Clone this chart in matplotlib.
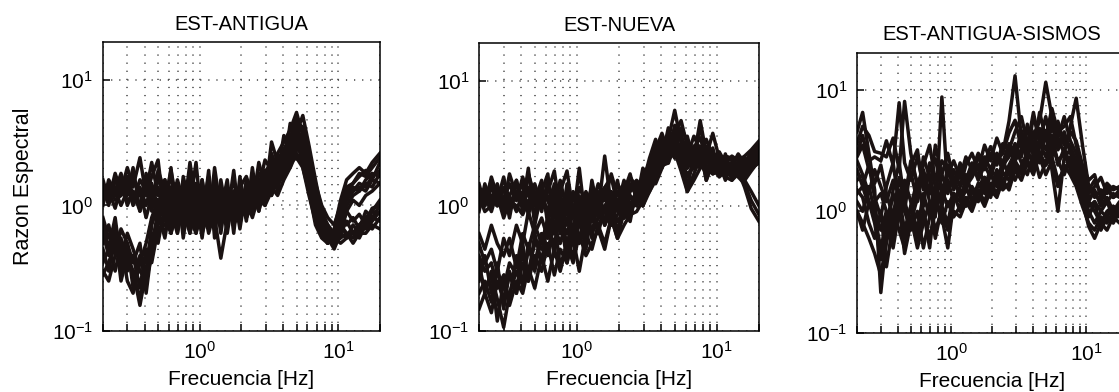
import matplotlib
matplotlib.use('Agg')
import matplotlib.pyplot as plt
from matplotlib.ticker import LogLocator, NullLocator, NullFormatter

plt.rcParams['font.family'] = ['Liberation Sans', 'DejaVu Sans']

# frecuencias comunes (Hz)
freq = [0.20, 0.22, 0.245, 0.27, 0.30, 0.33, 0.37, 0.41, 0.45, 0.50,
        0.56, 0.62, 0.69, 0.76, 0.85, 0.94, 1.04, 1.16, 1.28, 1.42,
        1.58, 1.76, 1.95, 2.17, 2.4, 2.67, 2.96, 3.3, 3.65, 4.05,
        4.5, 5.0, 5.55, 6.15, 6.85, 7.6, 8.4, 9.35, 10.4, 11.5,
        12.8, 14.2, 15.8, 17.6, 20]

# EST-ANTIGUA
antigua = [
    [1.3, 1.15, 1.4, 1.2, 1.5, 1.1, 1.6, 1.3, 2.2, 1.2,
     1.5, 0.9, 1.6, 1.1, 1.8, 0.9, 1.3, 1.0, 1.4, 0.8,
     1.2, 1.5, 1.0, 1.3, 1.6, 1.4, 2.3, 1.9, 2.6, 3.2,
     4.0, 5.5, 3.6, 1.8, 0.9, 0.65, 0.55, 0.6, 0.9, 1.3,
     1.5, 1.7, 1.9, 1.6, 2.2],
    [1.1, 1.4, 1.2, 1.6, 1.0, 1.3, 0.9, 1.8, 1.0, 1.4,
     0.8, 1.2, 0.7, 1.3, 1.0, 1.5, 0.8, 1.2, 0.9, 1.1,
     1.4, 0.8, 1.2, 1.0, 1.5, 1.3, 1.8, 2.2, 2.0, 2.8,
     3.5, 4.6, 4.2, 2.2, 1.1, 0.7, 0.6, 0.5, 0.6, 0.75,
     0.6, 0.7, 0.8, 0.9, 0.85],
    [1.5, 1.2, 1.3, 1.0, 1.3, 1.7, 1.2, 1.4, 0.9, 1.7,
     1.1, 1.9, 1.0, 0.8, 2.2, 1.0, 1.6, 0.8, 1.1, 1.3,
     0.9, 1.1, 1.4, 1.7, 1.2, 1.8, 1.5, 2.0, 2.5, 2.2,
     3.0, 4.0, 2.8, 1.6, 1.0, 0.8, 0.7, 0.6, 0.85, 1.2,
     1.4, 1.3, 1.6, 1.8, 1.7],
    [1.2, 1.3, 0.95, 1.4, 1.1, 1.2, 1.4, 1.0, 1.5, 0.9,
     1.3, 0.75, 1.1, 1.4, 0.8, 1.2, 0.9, 1.7, 0.7, 1.0,
     1.2, 0.8, 1.0, 0.9, 1.2, 1.0, 1.3, 1.6, 1.5, 2.0,
     2.4, 3.2, 3.0, 2.0, 1.3, 0.9, 0.6, 0.55, 0.5, 0.55,
     0.7, 0.6, 0.75, 0.95, 1.0],
    [1.4, 1.0, 1.6, 1.3, 1.5, 1.0, 1.3, 0.8, 1.2, 1.1,
     0.9, 1.4, 1.5, 0.9, 1.4, 0.8, 1.1, 1.3, 1.0, 0.75,
     1.0, 1.3, 1.1, 1.4, 1.0, 1.6, 1.2, 3.2, 2.2, 2.6,
     2.8, 3.6, 3.3, 2.5, 1.5, 1.0, 0.8, 0.7, 1.0, 1.4,
     1.5, 1.8, 1.7, 2.0, 2.4],
    [1.2, 1.5, 1.1, 1.2, 1.7, 1.2, 1.0, 1.5, 1.3, 0.8,
     1.6, 1.0, 0.9, 1.2, 0.7, 1.1, 1.2, 0.9, 1.5, 1.0,
     0.85, 1.0, 1.2, 1.1, 1.4, 1.1, 1.6, 1.4, 1.9, 2.4,
     3.4, 5.0, 3.9, 2.4, 1.2, 0.75, 0.6, 0.55, 0.65, 0.6,
     0.55, 0.65, 0.7, 0.8, 0.75],
    [1.6, 1.1, 1.8, 1.3, 2.0, 1.4, 2.4, 1.2, 1.7, 2.3,
     0.8, 2.0, 0.6, 1.7, 1.0, 2.2, 0.7, 1.9, 0.55, 1.6,
     0.8, 1.9, 0.7, 1.6, 1.0, 2.2, 1.4, 2.6, 1.8, 3.6,
     2.6, 4.8, 2.5, 1.3, 0.7, 0.55, 0.5, 0.65, 1.1, 1.6,
     1.8, 2.0, 1.8, 2.2, 2.6],
    [1.0, 1.6, 1.3, 1.8, 1.2, 2.0, 0.9, 1.4, 1.0, 1.9,
     1.3, 0.6, 1.4, 0.7, 1.6, 0.65, 1.5, 0.7, 2.0, 0.9,
     1.6, 0.6, 1.7, 0.8, 2.0, 0.9, 1.7, 2.4, 1.6, 2.0,
     4.5, 3.8, 5.2, 3.0, 1.6, 0.9, 0.55, 0.45, 0.6, 0.9,
     1.1, 1.0, 1.2, 1.3, 1.5],
    [0.35, 0.45, 0.3, 0.5, 0.25, 0.2, 0.35, 0.5, 0.8, 1.1,
     0.9, 1.3, 0.8, 1.0, 1.2, 0.7, 1.0, 0.8, 1.1, 0.9,
     1.3, 0.95, 1.1, 0.8, 1.0, 1.2, 1.5, 1.3, 1.7, 2.1,
     2.6, 3.0, 2.4, 1.4, 0.8, 0.6, 0.5, 0.55, 0.7, 0.6,
     0.6, 0.55, 0.7, 0.65, 0.8],
    [0.6, 0.4, 0.7, 0.45, 0.35, 0.3, 0.16, 0.3, 0.55, 0.7,
     1.2, 0.8, 1.1, 0.7, 0.9, 1.3, 0.75, 1.0, 0.65, 1.1,
     0.9, 1.2, 0.8, 1.0, 1.3, 0.9, 1.4, 1.7, 1.4, 1.9,
     2.2, 2.8, 2.6, 1.7, 1.0, 0.7, 0.55, 0.6, 0.8, 1.2,
     1.3, 1.5, 1.4, 1.7, 1.9],
    [0.8, 0.55, 0.7, 0.4, 0.6, 0.45, 0.3, 0.25, 0.4, 0.8,
     0.6, 1.0, 1.4, 0.8, 1.0, 0.9, 1.1, 0.6, 0.9, 1.2,
     0.7, 1.1, 0.9, 1.2, 0.9, 1.3, 1.1, 1.5, 1.8, 2.4,
     2.9, 4.2, 3.2, 1.9, 1.1, 0.8, 0.65, 0.5, 0.55, 0.6,
     0.5, 0.6, 0.6, 0.7, 0.65],
    [0.28, 0.35, 0.5, 0.3, 0.45, 0.25, 0.4, 0.35, 0.6, 0.5,
     1.0, 0.7, 1.2, 0.9, 0.6, 1.0, 0.8, 1.2, 0.9, 0.7,
     1.1, 0.9, 1.2, 1.1, 0.8, 1.2, 1.3, 1.2, 1.6, 1.9,
     2.4, 3.3, 3.6, 2.2, 1.3, 0.9, 0.7, 0.55, 0.8, 1.1,
     1.3, 1.4, 1.3, 1.6, 1.5],
    [0.5, 0.7, 0.4, 0.65, 0.5, 0.35, 0.5, 0.2, 0.45, 0.6,
     0.8, 0.6, 0.9, 1.1, 0.8, 0.6, 0.9, 1.0, 0.8, 0.38,
     0.75, 0.9, 1.0, 0.8, 1.1, 1.0, 1.2, 1.4, 1.2, 1.6,
     2.0, 2.6, 2.2, 1.5, 0.9, 0.7, 0.6, 0.5, 0.6, 0.55,
     0.6, 0.7, 0.65, 0.75, 0.9],
    [0.3, 0.25, 0.4, 0.55, 0.3, 0.4, 0.22, 0.45, 0.35, 0.65,
     0.7, 0.9, 0.6, 1.0, 0.7, 1.1, 0.6, 0.9, 1.0, 0.8,
     1.0, 0.7, 0.9, 1.1, 0.9, 1.1, 1.0, 1.3, 1.5, 1.7,
     2.2, 2.4, 2.0, 1.3, 0.85, 0.6, 0.5, 0.6, 0.75, 1.0,
     1.2, 1.3, 1.5, 1.4, 1.8],
    [0.7, 0.45, 0.8, 0.35, 0.5, 0.22, 0.38, 0.26, 0.7, 1.0,
     1.6, 0.6, 1.5, 0.55, 1.3, 0.6, 1.6, 0.65, 1.3, 0.6,
     1.4, 0.7, 1.5, 0.75, 1.6, 1.0, 1.9, 1.2, 2.4, 1.7,
     3.2, 3.8, 2.0, 1.2, 0.75, 0.6, 0.5, 0.6, 0.65, 0.9,
     0.75, 0.85, 0.7, 0.9, 1.1],
    [0.45, 0.3, 0.6, 0.25, 0.4, 0.3, 0.18, 0.32, 0.48, 0.9,
     0.55, 1.1, 0.7, 1.5, 0.6, 1.2, 0.55, 1.4, 0.8, 1.2,
     0.6, 1.3, 0.65, 1.4, 0.9, 1.5, 1.0, 2.0, 1.3, 2.6,
     2.0, 3.4, 2.7, 1.6, 0.95, 0.65, 0.6, 0.5, 0.8, 0.7,
     0.8, 0.65, 0.9, 0.8, 1.0],
]

# EST-NUEVA
nueva = [
    [1.0, 1.3, 1.1, 1.5, 0.9, 1.2, 1.6, 1.0, 1.4, 0.8,
     1.2, 0.9, 1.5, 1.1, 0.7, 1.2, 0.9, 1.3, 1.0, 1.5,
     1.1, 1.8, 1.2, 1.4, 1.0, 1.3, 1.7, 2.2, 3.0, 2.6,
     3.4, 5.8, 3.2, 2.5, 3.6, 2.8, 2.2, 2.6, 2.0, 2.3,
     2.1, 1.9, 2.2, 2.5, 2.9],
    [1.3, 1.0, 1.4, 1.1, 1.7, 1.0, 1.2, 1.5, 0.85, 1.3,
     0.9, 1.6, 1.0, 1.3, 1.1, 0.8, 1.4, 1.1, 0.9, 1.2,
     1.4, 1.0, 1.5, 1.2, 1.4, 1.6, 1.4, 1.9, 2.5, 3.2,
     2.9, 3.6, 2.4, 1.3, 1.8, 2.4, 3.0, 2.3, 2.6, 2.0,
     1.8, 2.1, 1.9, 2.2, 2.6],
    [0.95, 1.2, 0.9, 1.3, 1.1, 1.5, 1.1, 1.7, 1.2, 1.0,
     1.4, 1.1, 0.8, 1.2, 0.9, 1.3, 1.0, 1.2, 0.75, 1.0,
     0.9, 1.3, 1.0, 1.6, 1.2, 1.1, 1.5, 1.8, 2.2, 2.8,
     3.8, 3.0, 4.2, 3.3, 2.6, 2.2, 1.9, 2.4, 2.7, 2.2,
     2.0, 1.7, 1.5, 1.1, 0.85],
    [1.4, 1.1, 1.6, 1.0, 1.2, 0.9, 1.3, 1.1, 1.8, 1.2,
     1.0, 1.3, 1.9, 0.9, 1.2, 1.0, 0.8, 1.0, 1.4, 1.1,
     1.2, 0.85, 1.1, 1.3, 1.5, 1.2, 1.6, 2.0, 2.8, 3.4,
     3.0, 4.0, 3.5, 2.8, 2.4, 4.8, 2.6, 2.1, 2.5, 2.4,
     2.3, 2.0, 2.4, 2.1, 2.7],
    [1.1, 1.4, 1.2, 1.0, 1.4, 1.2, 0.9, 1.3, 1.0, 1.5,
     1.0, 1.2, 1.0, 1.6, 0.9, 1.2, 1.1, 0.7, 1.1, 0.9,
     1.0, 1.2, 0.9, 1.1, 1.7, 1.4, 1.3, 1.7, 2.1, 2.4,
     2.6, 3.2, 2.8, 2.2, 3.0, 2.5, 2.0, 1.8, 1.9, 1.7,
     1.6, 1.8, 1.6, 1.9, 2.3],
    [1.2, 0.9, 1.0, 1.2, 0.8, 1.1, 1.0, 0.85, 1.1, 0.9,
     1.3, 0.8, 1.2, 0.75, 1.1, 0.9, 1.2, 0.9, 1.2, 0.8,
     1.3, 1.1, 1.3, 0.95, 1.3, 1.5, 1.2, 1.5, 1.9, 2.2,
     2.4, 2.7, 1.9, 1.3, 1.6, 2.0, 2.3, 2.0, 2.2, 1.9,
     1.7, 1.9, 1.4, 0.95, 0.75],
    [1.5, 1.0, 1.7, 1.2, 1.4, 0.8, 1.6, 0.9, 1.8, 1.1,
     1.6, 0.7, 1.4, 0.6, 1.5, 0.8, 2.0, 0.7, 1.6, 0.9,
     2.5, 1.0, 1.6, 0.8, 1.2, 1.0, 1.5, 2.4, 3.4, 2.4,
     4.2, 3.0, 2.0, 3.6, 2.2, 4.5, 2.2, 2.9, 1.8, 2.6,
     1.6, 2.3, 2.0, 2.5, 3.0],
    [0.9, 1.5, 1.0, 1.3, 1.0, 1.8, 1.2, 1.0, 2.0, 0.7,
     1.3, 1.8, 0.6, 1.3, 1.9, 0.9, 1.1, 0.55, 1.3, 1.0,
     1.4, 1.7, 1.0, 1.3, 1.8, 1.1, 2.0, 1.6, 2.8, 3.8,
     2.7, 3.4, 2.6, 1.4, 2.5, 2.8, 1.6, 2.4, 2.2, 1.6,
     2.2, 1.8, 1.6, 1.3, 1.0],
    [0.5, 0.35, 0.45, 0.3, 0.55, 0.4, 0.7, 0.5, 0.9, 0.6,
     0.8, 0.55, 1.0, 0.7, 0.9, 0.6, 0.9, 1.1, 0.8, 1.0,
     0.7, 0.9, 1.1, 0.8, 1.0, 1.3, 1.1, 1.4, 1.8, 2.3,
     2.8, 3.3, 2.7, 2.0, 2.4, 2.9, 2.1, 1.9, 2.3, 1.8,
     1.9, 2.2, 2.0, 2.4, 2.6],
    [0.3, 0.22, 0.28, 0.18, 0.107, 0.2, 0.3, 0.25, 0.45, 0.35,
     0.6, 0.45, 0.7, 0.5, 0.8, 0.55, 0.7, 0.9, 0.6, 0.8,
     0.9, 0.7, 0.85, 1.0, 0.9, 1.1, 1.2, 1.6, 2.0, 2.5,
     3.1, 4.2, 3.4, 2.6, 2.1, 2.6, 3.4, 2.5, 2.2, 2.0,
     2.2, 2.4, 2.1, 2.3, 2.8],
    [0.2, 0.25, 0.17, 0.3, 0.22, 0.35, 0.28, 0.4, 0.3, 0.5,
     0.45, 0.65, 0.5, 0.8, 0.6, 0.9, 0.7, 0.6, 0.9, 0.7,
     0.8, 1.0, 0.75, 0.9, 1.2, 1.0, 1.3, 1.5, 1.9, 2.6,
     3.3, 2.8, 3.8, 2.4, 2.9, 3.5, 2.4, 2.7, 2.1, 2.5,
     2.4, 2.0, 2.2, 2.6, 3.1],
    [0.6, 0.45, 0.7, 0.5, 0.4, 0.55, 0.32, 0.6, 0.45, 0.7,
     0.5, 0.8, 0.6, 0.9, 0.35, 0.7, 1.0, 0.75, 0.9, 0.65,
     1.0, 0.8, 1.0, 1.2, 0.9, 1.2, 1.0, 1.3, 1.6, 2.1,
     2.2, 3.0, 2.3, 1.7, 2.2, 2.7, 2.0, 2.3, 1.8, 2.1,
     1.8, 1.9, 1.7, 2.0, 2.2],
    [0.15, 0.2, 0.14, 0.25, 0.18, 0.28, 0.2, 0.35, 0.25, 0.4,
     0.3, 0.5, 0.28, 0.45, 0.35, 0.55, 0.3, 0.6, 0.45, 0.7,
     0.5, 0.8, 0.55, 0.9, 0.75, 1.4, 1.1, 1.6, 2.4, 2.0,
     2.6, 3.8, 4.8, 3.0, 2.5, 2.0, 2.5, 3.8, 2.4, 2.2,
     2.5, 2.3, 2.5, 2.8, 3.3],
    [0.4, 0.3, 0.35, 0.22, 0.28, 0.16, 0.25, 0.2, 0.32, 0.22,
     0.4, 0.25, 0.45, 0.3, 0.5, 0.35, 0.6, 0.4, 0.5, 0.65,
     0.45, 0.8, 0.55, 0.7, 0.85, 0.9, 1.1, 1.3, 1.7, 2.2,
     2.4, 2.6, 2.2, 1.8, 2.0, 2.2, 1.8, 2.0, 1.7, 1.9,
     2.0, 1.8, 2.1, 2.3, 2.5],
    [0.25, 0.4, 0.2, 0.35, 0.15, 0.3, 0.2, 0.5, 0.25, 0.6,
     0.35, 0.8, 0.4, 1.1, 0.45, 1.0, 0.5, 1.2, 0.55, 1.3,
     0.7, 1.1, 0.6, 1.2, 0.8, 1.4, 1.0, 1.4, 2.1, 3.0,
     2.2, 4.4, 2.0, 2.7, 2.0, 3.0, 1.6, 2.2, 1.9, 2.3,
     2.1, 2.6, 2.2, 2.7, 3.0],
    [0.35, 0.2, 0.3, 0.12, 0.25, 0.18, 0.4, 0.22, 0.5, 0.3,
     0.6, 0.4, 0.75, 0.33, 0.5, 0.4, 0.8, 0.45, 0.9, 0.6,
     1.0, 0.7, 1.1, 0.8, 1.0, 1.2, 1.0, 1.8, 1.5, 2.0,
     3.0, 2.4, 3.2, 2.0, 3.0, 2.4, 2.8, 1.8, 2.0, 2.2,
     2.0, 2.1, 1.8, 2.1, 2.4],
]

# EST-ANTIGUA-SISMOS
sismos = [
    [4.5, 6.5, 3.0, 1.5, 0.215, 0.6, 1.5, 2.5, 1.2, 0.8,
     1.6, 2.2, 1.4, 3.5, 2.0, 1.4, 2.2, 1.6, 2.4, 3.0,
     2.2, 3.5, 2.6, 4.0, 3.0, 5.5, 13.0, 4.0, 3.0, 6.0,
     4.0, 3.2, 5.0, 3.5, 4.5, 3.0, 2.5, 1.8, 1.2, 1.5,
     1.1, 1.3, 1.0, 1.2, 1.1],
    [3.6, 5.0, 4.2, 3.1, 3.0, 2.8, 4.0, 2.2, 8.0, 3.0,
     1.6, 2.4, 3.5, 1.8, 2.6, 2.2, 1.6, 2.5, 1.8, 2.0,
     2.8, 2.2, 3.0, 2.4, 3.6, 3.2, 4.5, 6.0, 3.6, 4.2,
     5.5, 11.5, 6.0, 4.0, 3.0, 5.0, 8.5, 3.5, 1.6, 1.3,
     1.5, 1.2, 1.4, 1.3, 1.5],
    [1.8, 2.0, 1.2, 0.9, 0.5, 0.8, 1.4, 0.9, 1.8, 1.2,
     0.6, 1.0, 0.5, 1.3, 0.9, 0.5, 1.2, 1.5, 1.1, 1.6,
     1.3, 1.9, 1.5, 2.2, 1.7, 2.4, 3.0, 3.8, 2.6, 4.5,
     3.0, 2.4, 3.4, 2.6, 2.0, 2.8, 2.2, 1.5, 1.0, 0.8,
     1.0, 0.9, 1.1, 1.0, 1.2],
    [1.5, 1.3, 0.8, 0.6, 1.0, 0.35, 0.8, 1.3, 0.7, 1.1,
     1.8, 1.0, 0.6, 1.0, 1.5, 1.1, 1.4, 1.0, 1.3, 1.1,
     1.5, 1.2, 1.7, 1.4, 2.1, 1.8, 2.6, 2.1, 3.2, 2.4,
     3.6, 2.8, 4.2, 2.4, 3.3, 2.4, 1.9, 1.3, 0.9, 1.2,
     0.7, 0.9, 0.8, 1.0, 0.9],
    [2.2, 1.6, 2.4, 1.3, 0.9, 1.6, 2.5, 1.1, 1.5, 2.1,
     1.2, 2.8, 1.9, 0.9, 8.7, 1.5, 1.9, 1.3, 1.8, 2.5,
     1.8, 2.4, 1.9, 2.8, 2.2, 3.2, 2.6, 3.2, 4.8, 3.1,
     6.5, 4.0, 7.0, 4.5, 5.0, 6.0, 3.5, 2.3, 1.5, 1.8,
     1.4, 1.6, 1.3, 1.5, 1.4],
    [1.2, 1.0, 1.6, 1.0, 0.7, 1.0, 0.6, 1.5, 1.0, 0.7,
     1.0, 0.5, 0.9, 1.3, 0.8, 1.2, 0.9, 1.1, 1.6, 1.2,
     1.7, 1.4, 2.0, 1.6, 2.6, 2.0, 3.4, 2.5, 2.9, 3.8,
     2.5, 4.5, 2.2, 1.0, 2.8, 3.2, 2.6, 1.6, 1.2, 1.0,
     0.8, 1.0, 1.1, 0.9, 1.0],
    [3.0, 4.2, 2.6, 2.8, 2.6, 3.8, 2.4, 7.8, 2.5, 1.8,
     2.8, 1.6, 2.2, 2.7, 1.5, 2.0, 2.6, 1.9, 2.8, 2.2,
     3.0, 2.5, 3.4, 2.6, 3.0, 4.4, 5.6, 3.3, 4.0, 3.5,
     4.8, 3.8, 5.5, 3.2, 4.0, 3.4, 2.6, 2.0, 1.4, 1.6,
     1.9, 1.4, 1.6, 1.5, 1.7],
    [1.0, 0.8, 0.6, 0.45, 0.3, 0.55, 1.0, 0.7, 0.5, 0.9,
     0.5, 0.8, 1.2, 0.7, 1.0, 0.7, 1.0, 0.9, 1.2, 1.0,
     1.4, 1.1, 1.5, 1.3, 1.8, 1.5, 2.2, 1.8, 2.5, 2.0,
     3.0, 2.4, 2.8, 1.8, 2.2, 2.6, 2.0, 1.2, 0.75, 0.6,
     0.8, 0.7, 0.9, 0.8, 0.9],
    [2.6, 2.0, 1.4, 2.2, 1.6, 1.2, 1.8, 1.4, 1.0, 2.4,
     3.2, 1.5, 2.0, 1.2, 2.0, 3.0, 1.8, 2.2, 1.6, 1.9,
     2.4, 1.6, 2.2, 1.9, 2.4, 2.8, 3.6, 2.8, 5.2, 2.8,
     3.8, 6.0, 3.2, 5.5, 3.5, 4.5, 3.8, 2.4, 1.8, 2.0,
     1.3, 1.7, 1.5, 1.6, 1.8],
    [1.4, 1.6, 1.1, 1.2, 1.4, 1.0, 0.8, 1.1, 0.45, 0.8,
     1.3, 2.0, 1.2, 0.6, 1.1, 1.8, 1.2, 1.6, 2.0, 1.4,
     1.6, 1.9, 1.4, 1.8, 1.6, 2.2, 1.8, 2.4, 2.0, 3.0,
     1.9, 2.5, 3.8, 2.6, 3.0, 2.2, 1.7, 1.3, 1.1, 1.2,
     1.0, 1.2, 0.9, 1.1, 1.0],
    [2.8, 3.5, 2.2, 1.7, 2.4, 1.4, 0.9, 1.9, 1.2, 2.6,
     1.7, 1.1, 2.5, 1.6, 1.2, 2.4, 1.5, 2.0, 1.5, 2.3,
     2.0, 2.8, 2.2, 3.0, 2.5, 3.6, 2.8, 4.6, 3.4, 6.5,
     3.6, 4.6, 2.8, 4.0, 6.0, 3.8, 3.0, 2.0, 1.3, 1.4,
     1.2, 1.5, 1.3, 1.4, 1.3],
    [1.0, 0.7, 1.2, 0.8, 0.4, 0.9, 0.5, 1.0, 0.6, 1.1,
     0.7, 1.4, 0.9, 1.6, 1.1, 0.8, 1.4, 1.2, 1.5, 1.3,
     1.2, 1.6, 1.3, 1.9, 1.5, 1.7, 2.4, 2.0, 2.6, 2.2,
     2.8, 2.0, 2.6, 1.6, 2.4, 2.0, 1.6, 1.1, 0.8, 0.7,
     0.9, 0.8, 1.0, 0.9, 1.0],
]

titles = ['EST-ANTIGUA', 'EST-NUEVA', 'EST-ANTIGUA-SISMOS']
paneles = [antigua, nueva, sismos]

fig = plt.figure(figsize=(11.19, 3.92), dpi=100)
# la tercera sale cortada por la derecha, como en la figura original
pos = [[0.0920, 0.1556, 0.2475, 0.7372],
       [0.4281, 0.1556, 0.2502, 0.7347],
       [0.7659, 0.1505, 0.2413, 0.7143]]

for i in range(3):
    ax = fig.add_axes(pos[i])
    for y in paneles[i]:
        ax.plot(freq, y, color='#1a1212', lw=2.5)
    ax.set_xscale('log')
    ax.set_yscale('log')
    ax.set_xlim(0.2, 20)
    ax.set_ylim(0.1, 20)
    ax.xaxis.set_major_locator(LogLocator(base=10))
    ax.xaxis.set_minor_locator(LogLocator(base=10, subs=range(2, 10)))
    ax.xaxis.set_minor_formatter(NullFormatter())
    ax.yaxis.set_minor_locator(NullLocator())
    ax.set_axisbelow(True)
    ax.grid(True, which='both', axis='x', ls=(0, (0.8, 4.5)), lw=1.1, color='#444444')
    ax.grid(True, which='major', axis='y', ls=(0, (0.8, 4.5)), lw=1.1, color='#444444')
    ax.tick_params(which='both', direction='in', top=False, right=False,
                   length=5, width=1.1, labelsize=15, pad=7)
    for s in ax.spines.values():
        s.set_linewidth(1.1)
    ax.set_title(titles[i], fontsize=14.5, pad=9)
    ax.set_xlabel('Frecuencia [Hz]', fontsize=15, labelpad=5)
    if i == 0:
        ax.set_ylabel('Razon Espectral', fontsize=15.5)
        ax.yaxis.set_label_coords(-0.25, 0.5)

fig.savefig('out.png', dpi=100)
